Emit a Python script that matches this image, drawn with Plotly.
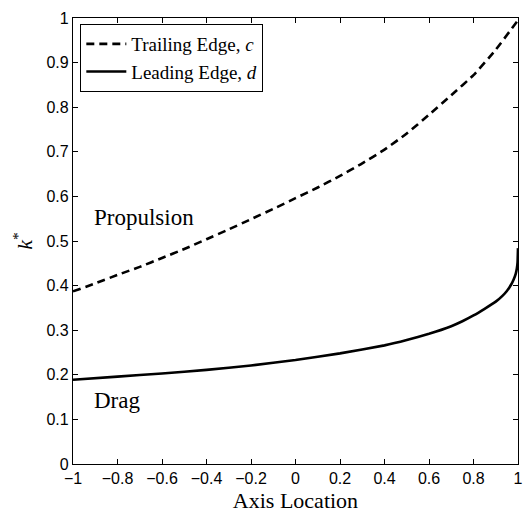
import plotly.graph_objects as go

# Trailing edge c (dashed)
x_trailing = [-1.0, -0.9, -0.8, -0.7, -0.6, -0.5, -0.4, -0.3, -0.2, -0.1, 0.0, 0.1, 0.2, 0.3, 0.4, 0.5, 0.6, 0.7, 0.8, 0.9, 1.0]
k_trailing = [0.387, 0.405, 0.424, 0.442, 0.462, 0.482, 0.504, 0.526, 0.549, 0.572, 0.596, 0.620, 0.646, 0.674, 0.705, 0.741, 0.783, 0.827, 0.872, 0.929, 0.995]

# Leading edge d (solid)
x_leading = [-1.0, -0.8, -0.6, -0.4, -0.2, 0.0, 0.2, 0.4, 0.5, 0.6, 0.7, 0.75, 0.8, 0.85, 0.9, 0.93, 0.95, 0.97, 0.98, 0.99, 0.995, 0.998, 1.0]
k_leading = [0.189, 0.196, 0.203, 0.211, 0.221, 0.233, 0.248, 0.266, 0.278, 0.292, 0.309, 0.320, 0.333, 0.348, 0.364, 0.377, 0.388, 0.403, 0.413, 0.427, 0.439, 0.452, 0.484]

x_ticks = [-1, -0.8, -0.6, -0.4, -0.2, 0, 0.2, 0.4, 0.6, 0.8, 1]
y_ticks = [0, 0.1, 0.2, 0.3, 0.4, 0.5, 0.6, 0.7, 0.8, 0.9, 1]

serif = "Liberation Serif"
sans = "Liberation Sans"

fig = go.Figure()
fig.add_trace(go.Scatter(
    x=x_trailing, y=k_trailing, mode="lines",
    name="Trailing Edge, <i>c</i>",
    line=dict(color="black", width=2.6, dash="8px,5px", shape="spline", smoothing=0.5),
    cliponaxis=False,
))
fig.add_trace(go.Scatter(
    x=x_leading, y=k_leading, mode="lines",
    name="Leading Edge, <i>d</i>",
    line=dict(color="black", width=2.6, shape="spline", smoothing=0.3),
    cliponaxis=False,
))

fig.add_annotation(x=-0.915, y=0.552, text="Propulsion", showarrow=False,
                   xanchor="left", yanchor="middle", font=dict(family=serif, size=23, color="black"))
fig.add_annotation(x=-0.915, y=0.142, text="Drag", showarrow=False,
                   xanchor="left", yanchor="middle", font=dict(family=serif, size=23, color="black"))

axis_common = dict(
    showgrid=False, zeroline=False, showline=True, linecolor="black", linewidth=1.2,
    mirror="allticks", ticks="inside", ticklen=5, tickcolor="black", tickwidth=1,
    tickfont=dict(family=sans, size=16, color="black"),
    ticklabeloverflow="allow", automargin=False,
)

fig.update_layout(
    width=525, height=513,
    margin=dict(l=73, r=7, t=18, b=49),
    paper_bgcolor="white", plot_bgcolor="white",
    xaxis=dict(range=[-1, 1], tickvals=x_ticks, ticktext=[("\u2212" if v < 0 else "") + f"{abs(v):g}" for v in x_ticks],
               title=dict(text="Axis Location", font=dict(family=serif, size=22, color="black"), standoff=13),
               **axis_common),
    yaxis=dict(range=[0, 1], tickvals=y_ticks, ticktext=[f"{v:g}" for v in y_ticks],
               title=dict(text="<i>k</i><sup>*</sup>", font=dict(family=serif, size=22, color="black"), standoff=7),
               **axis_common),
    legend=dict(x=0.016, y=0.987, xanchor="left", yanchor="top",
                bordercolor="black", borderwidth=1.2, bgcolor="white",
                font=dict(family=serif, size=19, color="black"),
                tracegroupgap=0, itemwidth=40),
    showlegend=True,
)

fig.write_html("out.html", config={"displayModeBar": False},
               post_script="document.body.style.margin='0';document.body.style.overflow='hidden';")
